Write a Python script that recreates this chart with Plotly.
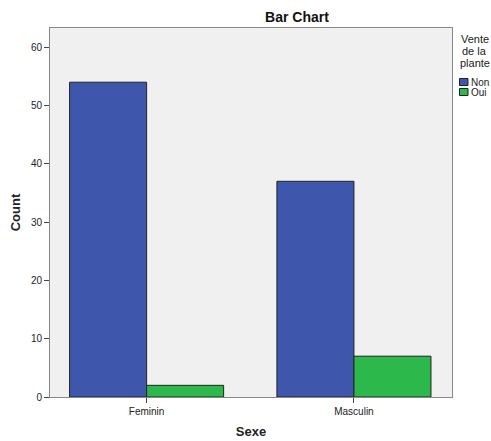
import plotly.graph_objects as go

categories = ["Feminin", "Masculin"]
non_values = [54, 37]
oui_values = [2, 7]
y_ticks = [0, 10, 20, 30, 40, 50, 60]
legend_title_lines = ["Vente", "de la", "plante"]
series_names = ["Non", "Oui"]
series_colors = ["#3E57AC", "#2DB84B"]

W, H = 491, 441
L, R, T, B = 50, 452, 28, 397

fig = go.Figure()
for name, vals, col in zip(series_names, [non_values, oui_values], series_colors):
    fig.add_trace(go.Bar(x=categories, y=vals, name=name,
                         marker=dict(color=col, line=dict(color="#222222", width=1))))

font = "Liberation Sans, Arial, sans-serif"

def px(x):
    return (x - L) / (R - L)

def py(y):
    return (B - y) / (B - T)

annotations = []
for i, line in enumerate(legend_title_lines):
    annotations.append(dict(text=line, xref="paper", yref="paper", x=px(474.5), y=py(39 + 12 * i),
                            xanchor="center", yanchor="middle", showarrow=False,
                            font=dict(size=11, color="#222222")))
shapes = []
for i, (name, col) in enumerate(zip(series_names, series_colors)):
    yc = 82 + 10 * i
    shapes.append(dict(type="rect", xref="paper", yref="paper",
                       x0=px(459.5), x1=px(468), y0=py(yc - 3.5), y1=py(yc + 3.5),
                       fillcolor=col, line=dict(color="#222222", width=1)))
    annotations.append(dict(text=name, xref="paper", yref="paper", x=px(468.5), y=py(yc),
                            xanchor="left", yanchor="middle", showarrow=False,
                            font=dict(size=10, color="#222222")))

fig.update_layout(
    width=W, height=H,
    margin=dict(l=L, r=W - R, t=T, b=H - B, autoexpand=False),
    barmode="group", bargap=0.257, bargroupgap=0,
    plot_bgcolor="#F0F0F0", paper_bgcolor="white",
    font=dict(family=font, size=10, color="#222222"),
    title=dict(text="<b>Bar Chart</b>", x=297 / W, xanchor="center", y=1 - 17 / H, yanchor="middle",
               font=dict(size=14, color="#111111")),
    showlegend=False,
    annotations=annotations,
    shapes=shapes,
)
fig.update_xaxes(
    range=[-0.466, 1.473], showline=True, linecolor="#888888", linewidth=1, mirror=True,
    ticks="outside", ticklen=5, tickcolor="#444444",
    title=dict(text="<b>Sexe</b>", font=dict(size=13), standoff=10),
    showgrid=False,
)
fig.update_yaxes(
    range=[0, 63.3], tickvals=y_ticks, showline=True, linecolor="#888888", linewidth=1, mirror=True,
    ticks="outside", ticklen=5, tickcolor="#444444",
    title=dict(text="<b>Count</b>", font=dict(size=13), standoff=7),
    showgrid=False, zeroline=False,
)
fig.write_html("out.html", config={"displayModeBar": False},
               post_script="document.body.style.margin='0';")
